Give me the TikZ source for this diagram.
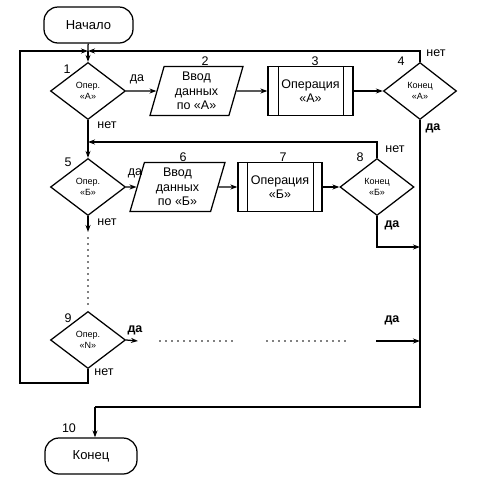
\documentclass[tikz,border=0pt]{standalone}
\usepackage{fontspec}
\setmainfont{Liberation Sans}
\usetikzlibrary{shapes.geometric,arrows.meta}
\begin{document}
\begin{tikzpicture}[x=1pt,y=-1pt, line width=1.25pt,
 term/.style={draw, rounded corners=14pt, minimum width=89pt, minimum height=36pt, inner sep=0pt, font=\fontsize{13}{14}\selectfont},
 dec/.style={draw, diamond, minimum width=75pt, minimum height=57pt, inner sep=0pt, align=center, font=\fontsize{9}{11.5}\selectfont},
 io/.style={draw, trapezium, trapezium left angle=76, trapezium right angle=104, trapezium stretches=true, minimum width=93pt, minimum height=49pt, inner sep=0pt, align=center, font=\fontsize{12.5}{14.5}\selectfont},
 proc/.style={draw, rectangle, minimum width=85pt, minimum height=49pt, inner sep=0pt, align=center, font=\fontsize{12.5}{14.5}\selectfont},
 arr/.style={-{Stealth[length=7pt,width=5pt]}},
 lbl/.style={font=\fontsize{12.5}{14}\selectfont, inner sep=0pt},
 blbl/.style={font=\fontsize{12.5}{14}\selectfont\bfseries, inner sep=0pt},
 dots/.style={line width=1.8pt, dash pattern=on 0pt off 6pt, line cap=round}]
\useasboundingbox (0,0) rectangle (480,491);

% nodes
\node[term] (start) at (88.5,25) {Начало};
\node[dec] (d1) at (88,91) {Опер.\\«А»};
\node[io] (p2) at (196.5,91) {Ввод\\данных\\по «А»};
\node[proc, minimum width=85pt] (b3) at (310.5,91) {Операция\\«А»};
\node[dec, minimum width=73pt] (d4) at (420,91) {Конец\\«А»};

\node[dec] (d5) at (88,187) {Опер.\\«Б»};
\node[io, minimum width=95pt] (p6) at (177.5,187) {Ввод\\данных\\по «Б»};
\node[proc, minimum width=84pt] (b7) at (280,187) {Операция\\«Б»};
\node[dec, minimum width=74pt] (d8) at (377,187) {Конец\\«Б»};

\node[dec] (d9) at (88,340) {Опер.\\«N»};
\node[term, minimum width=92pt] (end) at (91,456) {Конец};

% inner bars
\draw ([xshift=11pt]b3.north west) -- ([xshift=11pt]b3.south west);
\draw ([xshift=-10pt]b3.north east) -- ([xshift=-10pt]b3.south east);
\draw ([xshift=10pt]b7.north west) -- ([xshift=10pt]b7.south west);
\draw ([xshift=-9pt]b7.north east) -- ([xshift=-9pt]b7.south east);

% numbers
\node[lbl] (n1) at (67,69) {1};
\node[lbl] (n2) at (205,61) {2};
\node[lbl] (n3) at (315,61) {3};
\node[lbl] (n4) at (401,61) {4};
\node[lbl] (n5) at (68,162) {5};
\node[lbl] (n6) at (183,157) {6};
\node[lbl] (n7) at (283,157) {7};
\node[lbl] (n8) at (360,157) {8};
\node[lbl] (n9) at (68,318) {9};
\node[lbl] (n10) at (69,428) {10};

% coordinates
\coordinate (j1) at (88,51);
\coordinate (j2) at (88,142);
\coordinate (r4) at (420,51);
\coordinate (r8) at (377,142);
\coordinate (c8) at (377,247);
\coordinate (v8) at (420,247);
\coordinate (c9a) at (88,383);
\coordinate (c9b) at (20,383);
\coordinate (c9c) at (20,51);
\coordinate (dn5) at (88,232);
\coordinate (ds5) at (88,238);
\coordinate (ds6) at (88,306);
\coordinate (a9) at (138,341);
\coordinate (dt1) at (160,341);
\coordinate (dt2) at (232,341);
\coordinate (dt3) at (267,341);
\coordinate (dt4) at (345,341);
\coordinate (f1) at (376,341);
\coordinate (f2) at (420,341);
\coordinate (b4) at (420,407);
\coordinate (b10) at (95,407);

% connectors
\draw (start) -- (j1);
\draw[arr] (j1) -- (d1.north);
\draw[arr] (d1.east) -- (p2.west);
\draw[arr] (p2.east) -- (b3.west);
\draw[arr] (b3.east) -- (d4.west);
\draw[arr] (d4.north) -- (r4) -- (j1);
\draw (d4.south) -- (b4) -- (b10);
\draw[arr] (b10) -- (b10 |- end.north);

\draw (d1.south) -- (j2);
\draw[arr] (j2) -- (d5.north);
\draw[arr] (d8.north) -- (r8) -- (j2);
\draw[arr] (d5.east) -- (p6.west);
\draw[arr] (p6.east) -- (b7.west);
\draw[arr] (b7.east) -- (d8.west);
\draw[arr] (d8.south) -- (c8) -- (v8);
\draw[arr] (d5.south) -- (dn5);
\draw[dots] (ds5) -- (ds6);

\draw[arr] (d9.east) -- (a9);
\draw[dots] (dt1) -- (dt2);
\draw[dots] (dt3) -- (dt4);
\draw[arr] (f1) -- (f2);
\draw[arr] (d9.south) -- (c9a) -- (c9b) -- (c9c) -- (j1);

% yes/no labels
\node[lbl] (y1) at (137,79) {да};
\node[lbl] (no1) at (107,125) {нет};
\node[lbl] (no4) at (436,53) {нет};
\node[blbl] (y4) at (433,128) {да};
\node[lbl] (y5) at (135,173) {да};
\node[lbl] (no5) at (107,222) {нет};
\node[lbl] (no8) at (395,149) {нет};
\node[blbl] (y8) at (392,225) {да};
\node[blbl] (y9) at (135,330) {да};
\node[lbl] (no9) at (104,372) {нет};
\node[blbl] (yf) at (392,320) {да};
\end{tikzpicture}
\end{document}
